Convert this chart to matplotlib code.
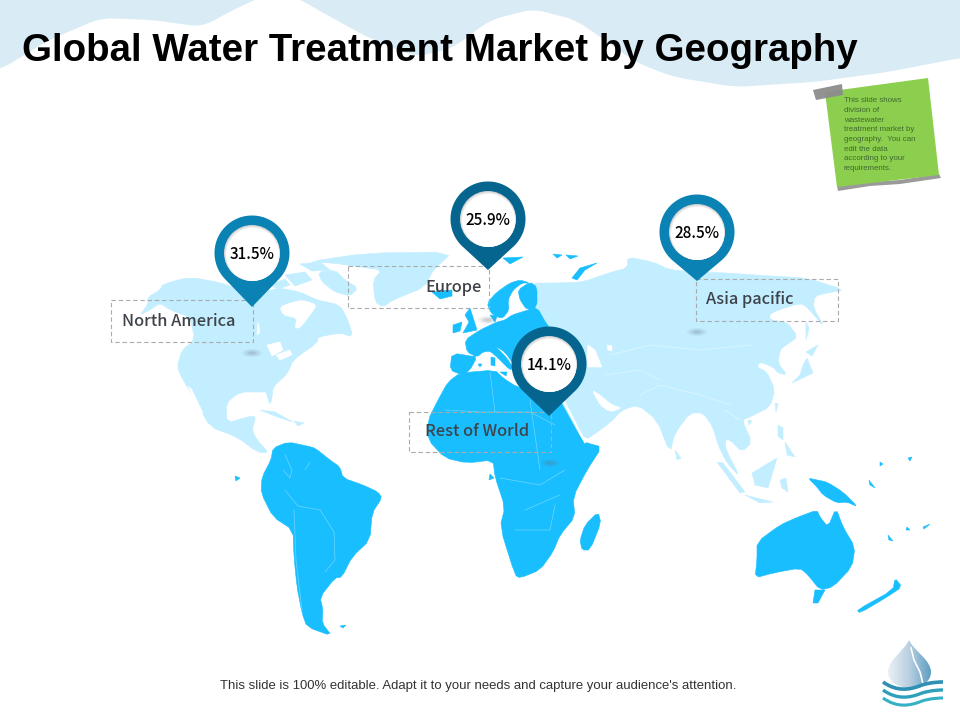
import matplotlib
matplotlib.use("Agg")
import matplotlib.pyplot as plt
import numpy as np
from matplotlib.patches import Polygon, Circle, Ellipse, PathPatch, Rectangle
from matplotlib.path import Path

# chart values
regions = ["North America", "Europe", "Asia pacific", "Rest of World"]
shares = [31.5, 25.9, 28.5, 14.1]

TITLE = "Global Water Treatment Market by Geography"
FOOTER = "This slide is 100% editable. Adapt it to your needs and capture your audience's attention."
NOTE = ["This slide shows", "division of", "wastewater", "treatment market by",
        "geography.  You can", "edit the data", "according to your", "requirements."]

DARK_LAND = "#19BEFF"
LIGHT_LAND = "#C2EEFF"
BORDER = "#6FD6FF"
LIGHT_BORDER = "#DDF6FF"

# pin layout, in pixels of the slide
pin_x = [252, 488, 697, 549]
pin_y = [253, 219, 232, 364]
pin_tip = [307, 270, 281, 416]
pin_color = ["#0A82B4", "#05658F", "#0A82B4", "#05658F"]
box_xy = [(111, 300, 253, 342), (348, 266, 489, 308), (696, 279, 838, 321), (409, 412, 551, 452)]
label_x = [122, 425, 706, 425]
label_y = [322, 288, 300, 431]
shadow_xy = [(252, 353), (488, 320), (697, 332), (550, 463)]

# land outlines
north_america = [(140, 315), (148, 304), (148, 297), (160, 290), (163, 284), (190, 277), (222, 283), (240, 290),
                 (262, 292), (280, 288), (300, 292), (317, 300), (340, 305), (348, 320), (353, 337), (340, 333),
                 (318, 337), (317, 343), (293, 360), (288, 373), (273, 387), (272, 398), (270, 405), (266, 392), (263, 392),
                 (240, 392), (226, 403), (227, 423), (247, 417), (256, 416), (252, 430), (257, 440), (269, 453),
                 (257, 452), (237, 437), (210, 427), (197, 403), (183, 380), (177, 367), (182, 350), (195, 340),
                 (190, 317), (170, 310), (160, 303), (150, 310)]
hudson_bay = [(280, 307), (290, 303), (303, 300), (317, 305), (310, 315), (300, 328), (295, 328), (297, 318), (283, 315)]
baja_gap = [(188, 386), (192, 390), (203, 413), (198, 410)]
lakes = [[(267, 345), (280, 342), (283, 350), (272, 356)], [(276, 355), (290, 350), (292, 355), (280, 360)],
         [(258, 322), (260, 332), (257, 335)]]
arctic = [[(285, 275), (305, 272), (312, 280), (295, 286)], [(318, 272), (335, 270), (345, 280), (358, 288), (350, 296), (335, 292), (322, 282)],
          [(270, 285), (285, 279), (290, 285), (278, 289)], [(300, 264), (320, 262), (330, 270), (312, 271)],
          [(330, 318), (336, 325), (342, 330), (330, 330)]]
greenland = [(307, 262), (367, 253), (453, 252), (433, 270), (425, 287), (393, 300), (383, 307), (375, 302), (373, 280),
             (382, 270), (360, 267), (333, 263)]
cuba = [(260, 410), (275, 412), (293, 422), (280, 418)]
hispaniola = [(294, 421), (304, 423), (298, 426)]
south_america = [(288, 442), (273, 448), (271, 460), (262, 477), (261, 493), (273, 517), (293, 530), (294, 557), (297, 587),
                 (302, 613), (307, 627), (332, 636), (322, 623), (323, 610), (320, 597), (335, 578), (342, 577), (352, 557),
                 (370, 540), (372, 513), (382, 498), (378, 492), (363, 485), (343, 478), (340, 467), (330, 460), (315, 448), (307, 446)]
asia = [(530, 283), (560, 283), (582, 282), (603, 275), (612, 272), (627, 268), (628, 257), (653, 262), (670, 270), (700, 272),
        (727, 273), (770, 276), (807, 278), (845, 290), (827, 293), (815, 296), (813, 307), (825, 328), (808, 308), (800, 303),
        (770, 313), (770, 320), (787, 322), (798, 337), (786, 345), (780, 350), (778, 363), (787, 375), (778, 373), (773, 367), (760, 362),
        (757, 367), (767, 372), (775, 390), (770, 407), (750, 417), (742, 420), (752, 442), (742, 452), (730, 440), (725, 440),
        (726, 450), (740, 477), (727, 463), (718, 445), (713, 427), (703, 413), (690, 413), (675, 433), (670, 453), (657, 420),
        (638, 405), (622, 410), (610, 423), (583, 442), (563, 407), (560, 380), (547, 325), (530, 307)]
persian_gulf = [(592, 390), (600, 395), (612, 405), (622, 408), (610, 412), (600, 405)]
caspian = [(588, 345), (595, 350), (602, 367), (588, 367), (587, 356)]
aral = [(607, 345), (612, 346), (612, 351), (608, 350)]
asia_islands = [[(792, 383), (813, 373), (807, 358), (803, 365), (800, 375)], [(806, 352), (818, 345), (812, 356)],
                [(717, 462), (723, 463), (745, 492), (740, 493)], [(745, 495), (773, 502), (760, 503)],
                [(752, 473), (777, 458), (768, 488), (755, 485)], [(780, 480), (786, 478), (788, 492), (782, 488)],
                [(778, 425), (783, 428), (783, 440), (778, 436)], [(785, 442), (795, 457), (787, 455)],
                [(775, 403), (778, 404), (776, 412)], [(675, 450), (681, 458), (677, 460)], [(748, 420), (752, 421), (749, 425)],
                [(806, 322), (809, 328), (806, 340)]]
europe = [(452, 353), (450, 370), (462, 375), (470, 370), (477, 357), (467, 352), (465, 340), (480, 330), (497, 322), (505, 320),
          (512, 315), (525, 311), (537, 307), (547, 325), (560, 340), (560, 380), (530, 372), (516, 368), (505, 352), (495, 346),
          (507, 358), (513, 368), (510, 370), (498, 358), (490, 351), (483, 352), (477, 357)]
africa = [(460, 373), (448, 382), (438, 400), (428, 420), (428, 440), (445, 458), (467, 463), (493, 460), (495, 477), (505, 507),
          (500, 527), (515, 575), (520, 578), (540, 570), (553, 552), (560, 535), (575, 517), (573, 497), (587, 470), (602, 447),
          (587, 443), (582, 440), (567, 413), (560, 400), (517, 387), (503, 378), (495, 370)]
blue_islands = [[(487, 303), (491, 313), (497, 317), (503, 318), (509, 310), (508, 300), (513, 290), (522, 283), (530, 283), (520, 280), (510, 283), (497, 292)],
                [(518, 290), (530, 282), (537, 287), (537, 307), (527, 310), (520, 300)], [(490, 315), (497, 316), (495, 322)],
                [(470, 308), (477, 330), (463, 333), (469, 322), (465, 315)], [(453, 325), (462, 322), (460, 331), (453, 333)],
                [(432, 292), (452, 290), (452, 296), (440, 299)], [(572, 278), (580, 268), (597, 263), (585, 270), (577, 280)],
                [(553, 254), (562, 255), (557, 258)], [(566, 255), (578, 256), (570, 259)], [(503, 258), (523, 257), (510, 264)],
                [(598, 512), (601, 523), (590, 550), (582, 550), (580, 540), (585, 525)],
                [(808, 478), (817, 480), (827, 482), (843, 492), (858, 507), (847, 502), (837, 503), (823, 495), (817, 487)],
                [(757, 542), (780, 525), (798, 517), (817, 510), (820, 517), (828, 527), (836, 508), (843, 527), (855, 547), (852, 567),
                 (833, 587), (820, 590), (808, 575), (800, 568), (773, 573), (755, 578), (757, 560)],
                [(815, 590), (825, 590), (818, 603), (813, 603)],
                [(857, 610), (893, 590), (895, 578), (902, 587), (887, 597), (860, 613)],
                [(235, 476), (240, 478), (236, 481)], [(340, 626), (346, 625), (343, 628)], [(490, 474), (494, 478), (489, 480)],
                [(880, 462), (883, 464), (880, 466)], [(908, 458), (912, 457), (910, 461)], [(907, 527), (910, 530), (906, 530)],
                [(923, 527), (930, 524), (924, 529)], [(888, 535), (893, 541), (889, 540)], [(869, 480), (875, 488), (870, 485)],
                [(491, 357), (495, 358), (495, 366), (491, 365)], [(500, 372), (507, 372), (506, 376)], [(478, 364), (482, 364), (480, 367)]]
sa_borders = [[(285, 490), (298, 506), (320, 510), (334, 532), (335, 560), (325, 572)], [(294, 510), (296, 560), (302, 610)],
              [(283, 470), (290, 478), (292, 470), (285, 455)], [(305, 470), (310, 462)]]
africa_borders = [[(445, 410), (480, 412), (530, 412), (555, 425)], [(490, 372), (495, 412)], [(530, 400), (540, 470)],
                  [(500, 478), (540, 485), (565, 470)], [(515, 530), (550, 530), (555, 505)], [(525, 510), (560, 495)]]
asia_borders = [[(610, 355), (650, 345), (700, 350), (750, 345)], [(640, 395), (660, 385), (700, 395), (730, 405)],
                [(605, 375), (640, 370), (660, 380)], [(740, 420), (725, 410)]]

hill_x = [0, 49, 101, 153, 202, 233, 263, 294, 318, 367, 416, 453, 490, 533, 576, 637, 674, 735, 814, 888, 960]
hill_y = [70, 40, 18, 20, 27, 10, -4, -4, 10, 37, 57, 48, 20, 9, 20, 63, 77, 87, 82, 72, 58]

note_corners = [(825, 92), (928, 78), (939, 175), (837, 187)]
note_shadow = [(837, 186), (870, 182), (900, 180), (939, 174), (941, 178), (900, 184), (870, 186), (838, 191)]
tape = [(813, 90), (842, 84), (843, 95), (816, 100)]


def soften(points):
    # corner cutting so the coasts look less angular
    pts = np.array(points, dtype=float)
    if len(pts) < 6:
        return pts
    nxt = np.roll(pts, -1, axis=0)
    return np.column_stack([0.8 * pts + 0.2 * nxt, 0.2 * pts + 0.8 * nxt]).reshape(-1, 2)


def land(points, color, z=2):
    ax.add_patch(Polygon(soften(points), closed=True, facecolor=color, edgecolor=color, linewidth=0.4, zorder=z))


def pin_outline(cx, cy, tip, r):
    # circle with the point going down, tangent lines to the tip
    phi = np.arccos(r / (tip - cy))
    t = np.linspace(phi, 2 * np.pi - phi, 160)
    pts = np.column_stack([cx + r * np.sin(t), cy + r * np.cos(t)])
    return np.vstack([pts, [cx, tip]])


fig = plt.figure(figsize=(9.6, 7.2), dpi=100)
ax = fig.add_axes([0, 0, 1, 1])
ax.set_xlim(0, 960)
ax.set_ylim(720, 0)
ax.axis("off")

# top water band, hills smoothed a bit
xs = np.arange(-40, 1001)
ys = np.interp(xs, hill_x, hill_y)
ys = np.convolve(ys, np.ones(25) / 25, mode="same")
keep = (xs >= 0) & (xs <= 960)
ax.fill_between(xs[keep], 0, np.maximum(ys[keep], 0), color="#D9ECF5", linewidth=0, zorder=1)

# map
land(north_america, LIGHT_LAND)
land(greenland, LIGHT_LAND)
land(asia, LIGHT_LAND)
land(cuba, LIGHT_LAND)
land(hispaniola, LIGHT_LAND)
for shp in arctic + asia_islands:
    land(shp, LIGHT_LAND)
for shp in [hudson_bay, baja_gap, persian_gulf, caspian, aral] + lakes:
    land(shp, "white", 3)
land(south_america, DARK_LAND, 4)
land(europe, DARK_LAND, 4)
land(africa, DARK_LAND, 4)
for shp in blue_islands:
    land(shp, DARK_LAND, 4)
ax.plot([562, 585], [398, 442], color="white", lw=1.6, zorder=5)
for line in sa_borders + africa_borders:
    ax.plot(*zip(*line), color=BORDER, lw=0.5, zorder=5)
for line in asia_borders:
    ax.plot(*zip(*line), color=LIGHT_BORDER, lw=0.6, zorder=5)

# shadows below the pins
for sx, sy in shadow_xy:
    for w, al in zip([20, 14, 8], [0.08, 0.12, 0.15]):
        ax.add_patch(Ellipse((sx, sy), w, w * 0.4, color="#607080", alpha=al, lw=0, zorder=6))

# dashed label boxes
for x0, y0, x1, y1 in box_xy:
    ax.add_patch(Rectangle((x0, y0), x1 - x0, y1 - y0, fill=False, edgecolor="#ABABAB",
                           linewidth=0.8, linestyle=(0, (4, 2.5)), zorder=7))

for i, name in enumerate(regions):
    ax.text(label_x[i], label_y[i], name, fontsize=11.8, color="#3F4349", ha="left", va="center",
            family=["Noto Sans CJK JP", "DejaVu Sans"], fontweight="medium", zorder=8)

# pins
for i, val in enumerate(shares):
    cx, cy, tip = pin_x[i], pin_y[i], pin_tip[i]
    ax.add_patch(Polygon(pin_outline(cx, cy, tip, 37.5), closed=True, facecolor=pin_color[i], edgecolor="none", zorder=9))
    for r, c in zip([28, 27.5, 27, 26.5], ["#CFCFCF", "#E2E2E2", "#F0F0F0", "white"]):
        ax.add_patch(Circle((cx + (28 - r) * 0.4, cy + (28 - r) * 0.9), r, facecolor=c, edgecolor="none", zorder=10))
    ax.text(cx, cy + 1.5, f"{val}%", fontsize=11, color="black", ha="center", va="center",
            family=["Noto Sans CJK JP", "DejaVu Sans"], fontweight="medium", zorder=11)

# title + footer
ax.text(22, 51, TITLE, fontsize=27.7, fontweight="bold", family="Liberation Sans", color="black",
        ha="left", va="center", zorder=12)
ax.text(478.5, 686, FOOTER, fontsize=9.45, family="Liberation Sans", color="#333333",
        ha="center", va="center", zorder=12)

# sticky note
ax.add_patch(Polygon(note_shadow, closed=True, facecolor="#9A9A9A", edgecolor="none", zorder=13))
ax.add_patch(Polygon(note_corners, closed=True, facecolor="#8CCF4E", edgecolor="none", zorder=14))
ax.add_patch(Polygon(tape, closed=True, facecolor="#8C8C8C", edgecolor="none", alpha=0.95, zorder=15))
for k, line in enumerate(NOTE):
    ax.text(844, 101 + k * 9.65, line, fontsize=5.7, family="Liberation Sans", color="#3F6A2E",
            ha="left", va="center", zorder=16)

# water drop logo
drop = Path([(909, 640), (904, 651), (888, 660), (888, 672), (888, 682), (899, 688), (910, 688),
             (921, 688), (931, 682), (931, 672), (931, 660), (914, 651), (909, 640)],
            [Path.MOVETO, Path.CURVE4, Path.CURVE4, Path.CURVE4, Path.CURVE4, Path.CURVE4, Path.CURVE4,
             Path.CURVE4, Path.CURVE4, Path.CURVE4, Path.CURVE4, Path.CURVE4, Path.CURVE4])
grad = np.linspace(0, 1, 64).reshape(1, -1)
cmap = matplotlib.colors.LinearSegmentedColormap.from_list("drop", ["#EAF0F6", "#B9CFE0", "#5E9FC2"])
im = ax.imshow(grad, extent=(888, 931, 690, 638), cmap=cmap, aspect="auto", zorder=17)
patch = PathPatch(drop, facecolor="none", edgecolor="none", transform=ax.transData, zorder=17)
ax.add_patch(patch)
im.set_clip_path(patch)
ax.set_xlim(0, 960)
ax.set_ylim(720, 0)
ax.plot([911, 914, 920, 923], [648, 660, 672, 684], color="white", lw=1.2, zorder=18)
for dy, c, w in zip([0, 8, 16], ["#2F8FB5", "#2FA0BC", "#35B0C4"], [2.6, 2.4, 2.2]):
    wave = Path([(883, 682 + dy), (897, 692 + dy), (910, 690 + dy), (922, 685 + dy), (932, 682 + dy), (940, 682 + dy), (943, 682 + dy)],
                [Path.MOVETO, Path.CURVE4, Path.CURVE4, Path.CURVE4, Path.CURVE4, Path.CURVE4, Path.CURVE4])
    ax.add_patch(PathPatch(wave, facecolor="none", edgecolor=c, linewidth=w, zorder=18))

fig.savefig("out.png", dpi=100, facecolor="white")
